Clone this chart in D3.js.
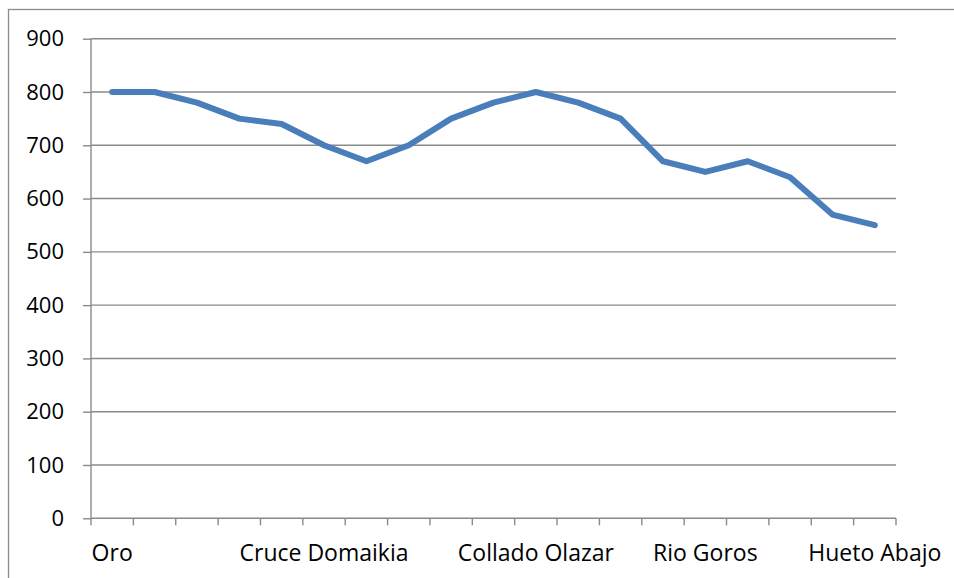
<!DOCTYPE html>
<html>
<head>
<meta charset="utf-8">
<script src="https://cdn.jsdelivr.net/npm/d3@7"></script>
<style>
  html, body { margin: 0; padding: 0; background: #fff; }
  svg { display: block; }
  text { font-family: "Open Sans", sans-serif; fill: #000; }
</style>
</head>
<body>
<svg id="chart"></svg>
<script>
// Datos del perfil (altitud por punto de paso)
const categories = ["Oro", "", "", "", "", "Cruce Domaikia", "", "", "", "", "Collado Olazar", "", "", "", "Rio Goros", "", "", "", "Hueto Abajo"];
const altitudes = [800, 800, 780, 750, 740, 700, 670, 700, 750, 780, 800, 780, 750, 670, 650, 670, 640, 570, 550];
const yTicks = [0, 100, 200, 300, 400, 500, 600, 700, 800, 900];

const width = 954, height = 578;
const margin = { top: 38.7, right: 58, bottom: 59.7, left: 91 };

const svg = d3.select("#chart")
    .attr("width", width)
    .attr("height", height);

// marco del gráfico
svg.append("rect")
    .attr("x", 8.5)
    .attr("y", 9.5)
    .attr("width", 1000)
    .attr("height", 1000)
    .style("fill", "none")
    .style("stroke", "#8c8c8c")
    .style("stroke-width", 1.3);

const x = d3.scaleBand()
    .domain(d3.range(categories.length))
    .range([margin.left, width - margin.right]);

const y = d3.scaleLinear()
    .domain([0, 900])
    .range([height - margin.bottom, margin.top]);

const g = svg.append("g");

// --- líneas de cuadrícula ---
g.append("g")
    .selectAll("line")
    .data(yTicks.filter(d => d > 0))
    .enter()
    .append("line")
    .attr("x1", margin.left)
    .attr("x2", width - margin.right)
    .attr("y1", d => y(d))
    .attr("y2", d => y(d))
    .style("stroke", "#8a8a8a")
    .style("stroke-width", 1.4);

// --- eje Y ---
const yAxis = d3.axisLeft(y)
    .tickValues(yTicks)
    .tickSize(8)
    .tickPadding(19);

g.append("g")
    .attr("transform", `translate(${margin.left},0)`)
    .call(yAxis)
    .call(a => a.select(".domain").remove())
    .call(a => a.selectAll("line").style("stroke", "#8a8a8a").style("stroke-width", 1.4))
    .call(a => a.selectAll("text")
        .style("font-family", "'Open Sans', sans-serif")
        .style("font-size", "22px")
        .attr("fill", "#000"));

g.append("line")
    .attr("x1", margin.left)
    .attr("x2", margin.left)
    .attr("y1", margin.top)
    .attr("y2", y(0))
    .style("stroke", "#8a8a8a")
    .style("stroke-width", 1.4);

// --- eje X (marcas entre categorías) ---
const bounds = d3.range(categories.length + 1).map(i => margin.left + i * x.step());

g.append("line")
    .attr("x1", margin.left)
    .attr("x2", width - margin.right)
    .attr("y1", y(0))
    .attr("y2", y(0))
    .style("stroke", "#8a8a8a")
    .style("stroke-width", 1.4);

g.append("g")
    .selectAll("line")
    .data(bounds)
    .enter()
    .append("line")
    .attr("x1", d => d)
    .attr("x2", d => d)
    .attr("y1", y(0))
    .attr("y2", y(0) + 7)
    .style("stroke", "#8a8a8a")
    .style("stroke-width", 1.4);

g.append("g")
    .selectAll("text")
    .data(categories)
    .enter()
    .append("text")
    .attr("x", (d, i) => x(i) + x.bandwidth() / 2)
    .attr("y", y(0) + 43)
    .attr("text-anchor", "middle")
    .style("font-size", "23px")
    .text(d => d);

// --- línea de altitudes ---
const line = d3.line()
    .x((d, i) => x(i) + x.bandwidth() / 2)
    .y(d => y(d));

g.append("path")
    .datum(altitudes)
    .attr("d", line)
    .style("fill", "none")
    .style("stroke", "#4a7ebb")
    .style("stroke-width", 6)
    .style("stroke-linejoin", "round")
    .style("stroke-linecap", "round");
</script>
</body>
</html>
